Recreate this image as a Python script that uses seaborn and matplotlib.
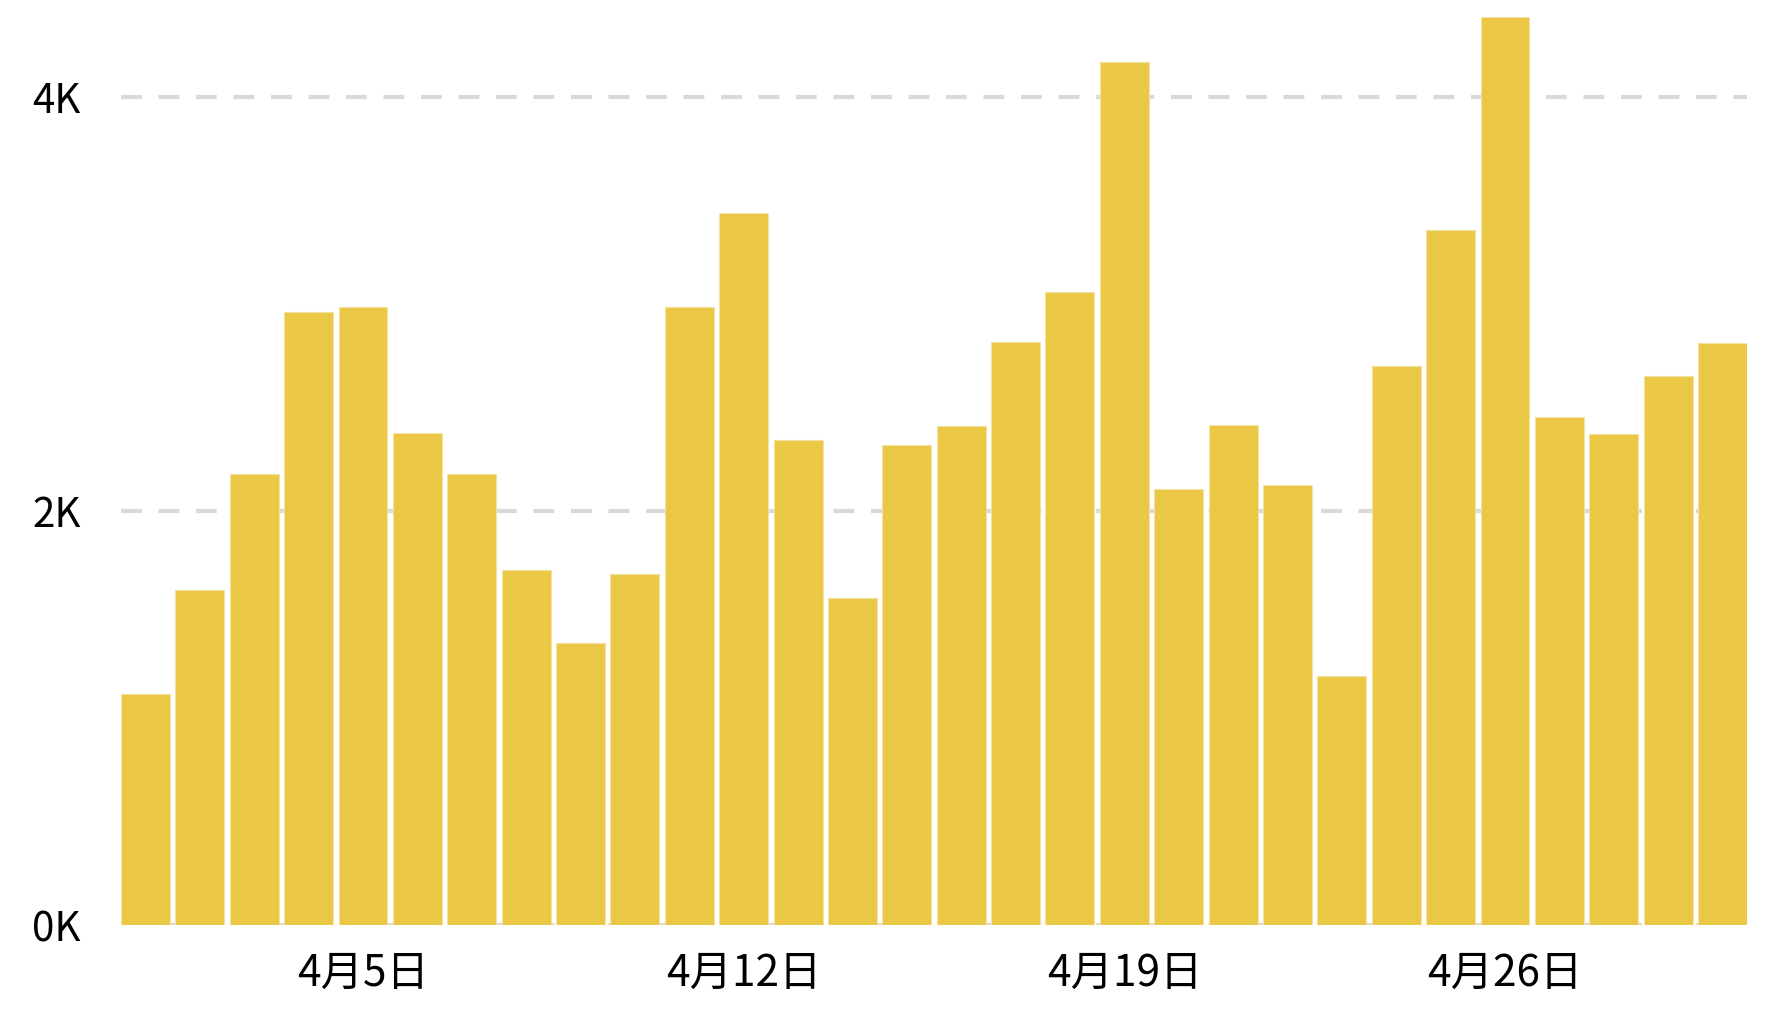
import seaborn as sns
import matplotlib.pyplot as plt
import pandas as pd

sns.set_style("white")
plt.rcParams['font.family'] = ['Noto Sans CJK JP', 'DejaVu Sans']

days = list(range(1, 31))
values = [1115, 1617, 2180, 2962, 2984, 2377, 2180, 1716, 1361, 1694,
          2984, 3437, 2344, 1579, 2317, 2410, 2814, 3060, 4169, 2104,
          2415, 2126, 1202, 2699, 3355, 4386, 2454, 2372, 2650, 2809]
tick_days = [5, 12, 19, 26]
tick_labels = [f"4月{d}日" for d in tick_days]
y_ticks = [0, 2000, 4000]
y_labels = ["0K", "2K", "4K"]

df = pd.DataFrame({"day": days, "value": values})

fig = plt.figure(figsize=(17.75, 10.22), dpi=100)
ax = fig.add_axes([121 / 1775, 97 / 1022, (1747 - 121) / 1775, (925 - 17) / 1022])

sns.barplot(data=df, x="day", y="value", color="#EAC846", saturation=1,
            width=0.9, edgecolor="#f3e2a0", linewidth=0.8, ax=ax, zorder=2)

ax.set_xlim(-0.45, len(days) - 0.55)
ax.set_ylim(0, max(values))
ax.set_xticks([days.index(d) for d in tick_days])
ax.set_xticklabels(tick_labels)
ax.set_yticks(y_ticks)
ax.set_yticklabels(y_labels)
ax.tick_params(axis="x", labelsize=30.5, length=0, pad=19, labelcolor="black")
ax.tick_params(axis="y", labelsize=29, length=0, pad=29, labelcolor="black")
ax.set_xlabel("")
ax.set_ylabel("")
ax.yaxis.grid(True, color="#d9d9d9", linewidth=3, linestyle=(0, (5, 4)), zorder=0)
ax.set_axisbelow(True)
sns.despine(ax=ax, left=True, bottom=True)

fig.savefig("out.png", dpi=100)
plt.close(fig)
